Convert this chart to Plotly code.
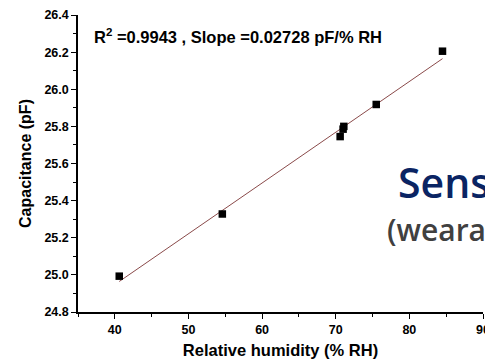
import numpy as np
import plotly.graph_objects as go

humidity = [40.6, 54.6, 70.6, 71.0, 71.1, 75.5, 84.5]
capacitance = [24.993, 25.328, 25.745, 25.785, 25.800, 25.918, 26.205]
x_ticks = [40, 50, 60, 70, 80, 90]
y_ticks = [24.8, 25.0, 25.2, 25.4, 25.6, 25.8, 26.0, 26.2, 26.4]

slope, intercept = np.polyfit(humidity, capacitance, 1)
fit_x = [min(humidity), max(humidity)]
fit_y = [slope * v + intercept for v in fit_x]

fig = go.Figure()
fig.add_trace(go.Scatter(x=fit_x, y=fit_y, mode="lines",
                         line=dict(color="#8a4a4a", width=1), showlegend=False))
fig.add_trace(go.Scatter(x=humidity, y=capacitance, mode="markers",
                         marker=dict(symbol="square", size=7.5, color="black"),
                         showlegend=False))

font = "Liberation Sans, Arial, sans-serif"
fig.update_layout(
    width=485, height=363,
    margin=dict(l=78, r=2, t=15, b=51),
    paper_bgcolor="white", plot_bgcolor="white",
    font=dict(family=font, color="black"),
    xaxis=dict(range=[35, 90], tickvals=x_ticks, ticktext=[str(v) for v in x_ticks],
               ticks="outside", ticklen=5, tickwidth=1, tickcolor="black",
               ticklabeloverflow="allow", automargin=False,
               showline=True, linecolor="black", linewidth=1.5,
               showgrid=False, zeroline=False,
               minor=dict(ticks="outside", ticklen=3, dtick=5, tickcolor="black", showgrid=False),
               tickfont=dict(size=12.5, family=font, weight="bold"),
               title=dict(text="Relative humidity (% RH)", standoff=9,
                          font=dict(size=16.5, family=font, weight="bold"))),
    yaxis=dict(range=[24.8, 26.4], tickvals=y_ticks, ticktext=[f"{v:.1f}" for v in y_ticks],
               ticks="outside", ticklen=5, tickwidth=1, tickcolor="black",
               automargin=False,
               showline=True, linecolor="black", linewidth=1.5,
               showgrid=False, zeroline=False,
               minor=dict(ticks="outside", ticklen=3, dtick=0.1, tickcolor="black", showgrid=False),
               tickfont=dict(size=12.5, family=font, weight="bold"),
               title=dict(text="Capacitance (pF)", standoff=9,
                          font=dict(size=16, family=font, weight="bold"))),
)

fig.add_annotation(x=0.035, y=0.93, xref="paper", yref="paper", xanchor="left", yanchor="middle",
                   text="R<sup>2</sup> =0.9943 , Slope =0.02728 pF/% RH", showarrow=False,
                   font=dict(size=16.5, family=font, color="black", weight="bold"))
fig.add_annotation(x=(396 - 78) / 405, y=(312 - 182) / 297, xref="paper", yref="paper",
                   showarrow=False, text="Sens", xanchor="left", yanchor="middle",
                   font=dict(size=41, family="Open Sans, sans-serif", color="#0a2463", weight=600))
fig.add_annotation(x=(385 - 78) / 405, y=(312 - 229) / 297, xref="paper", yref="paper",
                   showarrow=False, text="(weara", xanchor="left", yanchor="middle",
                   font=dict(size=30, family="Open Sans, sans-serif", color="#404040", weight=600))

fig.write_html("out.html")
